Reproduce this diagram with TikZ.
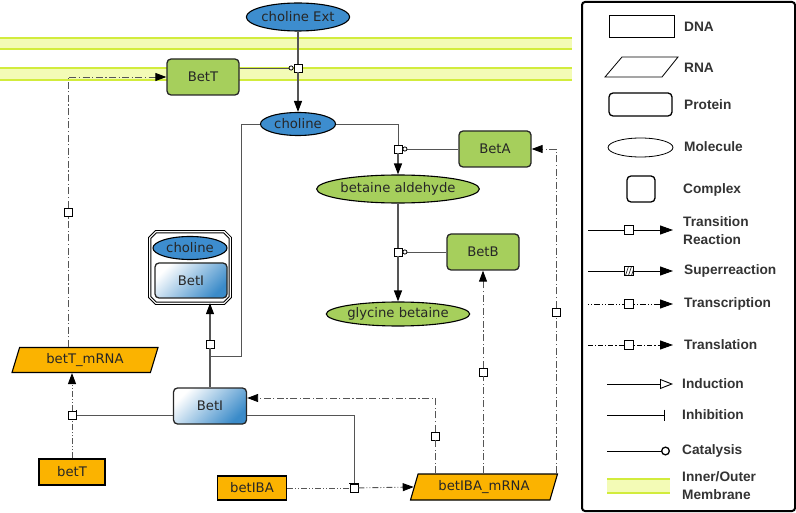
\documentclass[tikz,border=0pt]{standalone}
\usepackage{fontspec}
\setmainfont{DejaVu Sans}
\newfontfamily\legfont{Liberation Sans}
\usetikzlibrary{arrows.meta,shapes.geometric}
\definecolor{molblue}{HTML}{3D8DCE}
\definecolor{protgreen}{HTML}{A6CF5C}
\definecolor{dnaorange}{HTML}{FBB300}
\definecolor{memfill}{HTML}{F3FBB6}
\definecolor{memline}{HTML}{D2EC3C}
\definecolor{edgegray}{HTML}{555555}
\definecolor{legtext}{HTML}{333333}
\definecolor{betiblue}{HTML}{3B8BC9}
\tikzset{
  lbl/.style={font=\fontsize{13.2}{15}\selectfont, text=black!85, inner sep=0pt},
  mol/.style={lbl, ellipse, draw=black, line width=1.1pt, fill=molblue},
  smol/.style={mol, fill=protgreen},
  prot/.style={lbl, rectangle, rounded corners=4pt, draw=black!85, line width=1.3pt, fill=protgreen, minimum width=72pt, minimum height=36pt},
  protI/.style={prot, top color=white, bottom color=betiblue, shading angle=45},
  gene/.style={lbl, rectangle, draw=black, line width=1.3pt, fill=dnaorange},
  rna/.style={lbl, trapezium, trapezium left angle=60, trapezium right angle=120, trapezium stretches body, draw=black, line width=1.1pt, fill=dnaorange},
  cplxbox/.style={rectangle, inner sep=0pt},
  cplxline/.style={draw=black, line width=1pt, double=white, double distance=1.2pt},
  rxn/.style={rectangle, draw=black, fill=white, line width=0.8pt, minimum size=8pt, inner sep=0pt},
  flow/.style={draw=edgegray, line width=1.2pt},
  thinl/.style={draw=edgegray, line width=0.9pt},
  arr/.style={-{Triangle[length=11pt,width=8pt,color=black]}},
  cat/.style={-{Circle[length=5pt,width=5pt,color=black,fill=white,line width=0.8pt]}},
  inh/.style={-{Bar[width=10pt,color=black,line width=1pt]}},
  txn/.style={thinl, dash pattern=on 6pt off 2pt on 1pt off 2pt on 1pt off 2pt},
  tln/.style={thinl, dash pattern=on 7pt off 2.5pt on 1.2pt off 2.5pt},
  leg/.style={font=\legfont\bfseries\fontsize{13.7}{18}\selectfont, text=legtext, anchor=west, inner sep=0pt, align=left},
  legl/.style={draw=black, line width=0.9pt},
}
\begin{document}
\begin{tikzpicture}[x=1pt,y=-1pt]
\useasboundingbox (0,0) rectangle (796,513);
% membranes
\fill[memfill] (0,38) rectangle (572,49);
\fill[memfill] (0,68) rectangle (572,80);
\draw[memline,line width=1.4pt] (0,38) -- (572,38) (0,49) -- (572,49) (0,68) -- (572,68) (0,80) -- (572,80);
% species
\node[mol, minimum width=96pt, minimum height=28pt] (cext) at (298,17) {choline Ext};
\node[mol, minimum width=75pt, minimum height=23pt] (cho) at (298,124) {choline};
\node[prot] (betTp) at (203,77) {BetT};
\node[prot] (betA) at (495,149) {BetA};
\node[prot] (betB) at (483,252) {BetB};
\node[smol, minimum width=136pt, minimum height=28pt] (bald) at (398,189) {betaine aldehyde};
\node[smol, minimum width=125pt, minimum height=24pt] (gly) at (398,314) {glycine betaine};
\node[cplxbox, minimum width=80pt, minimum height=71pt] (cplx) at (190,267.5) {};
\draw[cplxline] ([xshift=6pt]cplx.north west) -- ([xshift=-6pt]cplx.north east) -- ([yshift=-6pt]cplx.north east) -- ([yshift=6pt]cplx.south east) -- ([xshift=-6pt]cplx.south east) -- ([xshift=6pt]cplx.south west) -- ([yshift=6pt]cplx.south west) -- ([yshift=-6pt]cplx.north west) -- cycle;
\node[mol, minimum width=74pt, minimum height=23pt] (cplxcho) at (190,248) {choline};
\node[protI, minimum width=72pt, minimum height=35pt] (cplxbeti) at (191,280.5) {BetI};
\node[protI, minimum width=73pt] (beti) at (210,406) {BetI};
\node[gene, minimum width=66pt, minimum height=26pt] (betTg) at (72,472) {betT};
\node[rna, minimum width=146pt, minimum height=25pt] (betTm) at (85,360) {betT\_mRNA};
\node[gene, minimum width=69pt, minimum height=24pt] (betIBAg) at (252,488) {betIBA};
\node[rna, minimum width=147pt, minimum height=26pt] (betIBAm) at (484,487) {betIBA\_mRNA};
% reactions
\node[rxn] (r1) at (298,68) {};
\node[rxn] (r2) at (398,149) {};
\node[rxn] (r3) at (398,252) {};
\node[rxn] (r4) at (210,344) {};
\node[rxn] (r5) at (72,415) {};
\node[rxn] (r6) at (68,212) {};
\node[rxn] (r7) at (354,488) {};
\node[rxn] (r8) at (435,436) {};
\node[rxn] (r9) at (483,372) {};
\node[rxn] (r10) at (556,312) {};
\coordinate (c1) at (241,356);
\coordinate (t1) at (435,398);
% metabolic edges
\draw[flow] (cext) -- (r1);
\draw[flow,arr] (r1) -- (cho);
\draw[thinl,cat] (betTp.east |- r1) -- (r1);
\draw[thinl] (cho) -| (r2);
\draw[flow,arr] (r2) -- (bald);
\draw[thinl,cat] (betA) -- (r2);
\draw[flow] (bald) -- (r3);
\draw[flow,arr] (r3) -- (gly);
\draw[thinl,cat] (betB) -- (r3);
% complex formation
\draw[flow] (beti) -- (r4);
\draw[flow,arr] (r4) -- (r4 |- cplx.south);
\draw[thinl] (cho) -| (c1) -- (c1 -| r4);
% betT expression
\draw[txn] (betTg) -- (r5);
\draw[txn,arr] (r5) -- (r5 |- betTm.south);
\draw[thinl,inh] (beti.west |- r5) -- (r5);
\draw[tln] (betTm.north -| r6) -- (r6);
\draw[tln,arr] (r6) |- (betTp);
% betIBA expression
\draw[txn] (betIBAg) -- (r7);
\draw[txn,arr] (r7) -- (betIBAm.left side);
\draw[thinl,inh] (beti.east |- r5) -| (r7);
\draw[tln] (betIBAm.north -| r8) -- (r8);
\draw[tln,arr] (r8) -- (t1) -- (beti.east |- t1);
\draw[tln] (betIBAm.north -| r9) -- (r9);
\draw[tln,arr] (r9) -- (betB);
\draw[tln] (betIBAm.north -| r10) -- (r10);
\draw[tln,arr] (r10) |- (betA);
% legend
\draw[line width=2pt, rounded corners=3pt] (582,2) rectangle (795,511);
\draw[line width=0.9pt] (609,15) rectangle (674,37);
\draw[line width=0.8pt] (605,77) -- (622,57) -- (678,57) -- (662,77) -- cycle;
\draw[line width=1.3pt, rounded corners=4pt] (609,93) rectangle (672,116);
\draw[line width=0.8pt] (640.5,147.5) ellipse [x radius=32.5, y radius=9.5];
\draw[line width=1.3pt, rounded corners=4pt] (627,176) rectangle (655,202);
% legend connectors
\coordinate (la0) at (588,230); \coordinate (la1) at (673,230);
\node[rxn, minimum size=9pt] (lar) at (629,230) {};
\draw[legl] (la0) -- (lar);
\draw[legl, -{Triangle[length=13pt,width=9pt]}] (lar) -- (la1);
\coordinate (lb0) at (588,271); \coordinate (lb1) at (673,271);
\node[rxn, minimum size=9pt] (lbr) at (629,271) {};
\draw[line width=0.6pt] (625.5,275.5) -- (628.5,266.5) (628.5,275.5) -- (631.5,266.5) (631.5,275.5) -- (633.5,269.5);
\draw[legl] (lb0) -- (lbr);
\draw[legl, -{Triangle[length=13pt,width=9pt]}] (lbr) -- (lb1);
\coordinate (lc0) at (588,304); \coordinate (lc1) at (673,304);
\node[rxn, minimum size=9pt] (lcr) at (629,304) {};
\draw[legl, dash pattern=on 1pt off 2pt on 1pt off 2pt on 6pt off 2pt] (lc0) -- (lcr);
\draw[legl, dash pattern=on 1pt off 2pt on 1pt off 2pt on 6pt off 2pt, -{Triangle[length=13pt,width=9pt]}] (lcr) -- (lc1);
\coordinate (ld0) at (588,345); \coordinate (ld1) at (673,345);
\node[rxn, minimum size=9pt] (ldr) at (629,345) {};
\draw[legl, dash pattern=on 5pt off 2pt on 1.2pt off 2pt] (ld0) -- (ldr);
\draw[legl, dash pattern=on 1.2pt off 2pt on 5pt off 2pt, -{Triangle[length=13pt,width=9pt]}] (ldr) -- (ld1);
\coordinate (le0) at (607,384); \coordinate (le1) at (673,384);
\draw[legl, -{Triangle[open,length=13pt,width=10pt]}] (le0) -- (le1);
\coordinate (lf0) at (607,415); \coordinate (lf1) at (665,415);
\draw[legl, -{Bar[width=11pt]}] (lf0) -- (lf1);
\coordinate (lg0) at (607,451); \coordinate (lg1) at (670,451);
\draw[legl, -{Circle[open,length=9pt,width=9pt,line width=1.3pt]}] (lg0) -- (lg1);
\fill[memfill] (607,479) rectangle (670,493);
\draw[memline, line width=1.4pt] (607,479) -- (670,479) (607,493) -- (670,493);
% legend labels
\node[leg] (lDNA) at (684,27) {DNA};
\node[leg] (lRNA) at (684,68) {RNA};
\node[leg] (lProt) at (684,105) {Protein};
\node[leg] (lMol) at (684,147) {Molecule};
\node[leg] (lCpx) at (683,190) {Complex};
\node[leg] (lTR) at (683,231) {Transition\\Reaction};
\node[leg] (lSR) at (684,271) {Superreaction};
\node[leg] (lTx) at (684,304) {Transcription};
\node[leg] (lTl) at (684,345) {Translation};
\node[leg] (lInd) at (682,384) {Induction};
\node[leg] (lInh) at (682,415) {Inhibition};
\node[leg] (lCat) at (682,451) {Catalysis};
\node[leg] (lMem) at (682,486) {Inner/Outer\\Membrane};
\end{tikzpicture}
\end{document}
